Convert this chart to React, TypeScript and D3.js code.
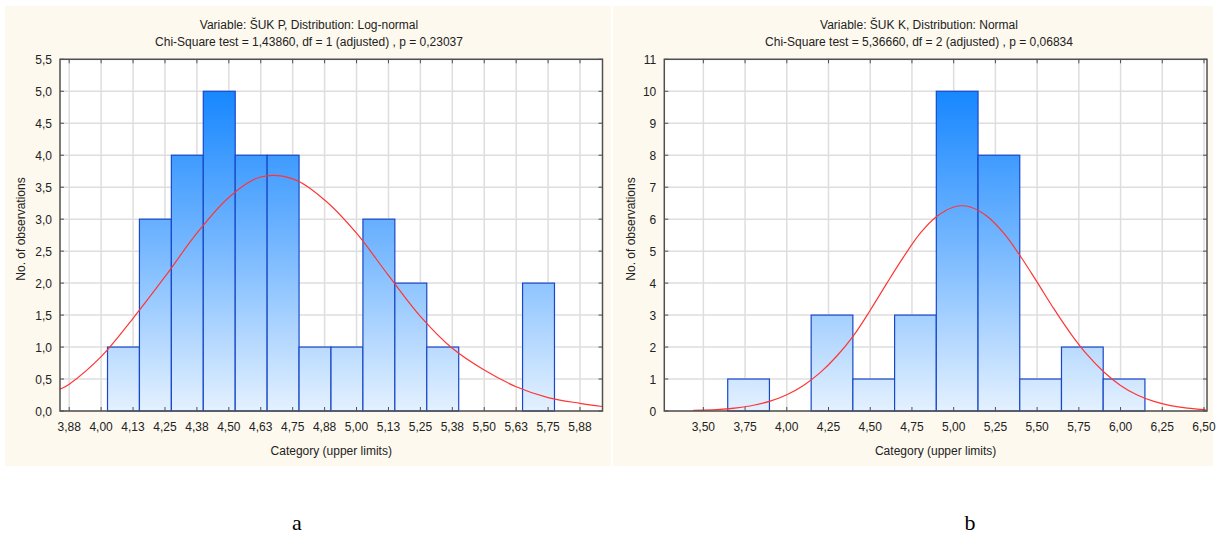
import React from "react";
import * as d3 from "d3";

// ---------- Data ----------
// Panel a: ŠUK P, log-normal fit
const leftTitle1 = "Variable: ŠUK P, Distribution: Log-normal";
const leftTitle2 = "Chi-Square test = 1,43860, df = 1 (adjusted) , p = 0,23037";
const leftTickValues = [3.875, 4.0, 4.125, 4.25, 4.375, 4.5, 4.625, 4.75, 4.875, 5.0, 5.125, 5.25, 5.375, 5.5, 5.625, 5.75, 5.875];
const leftTickLabels = ["3,88", "4,00", "4,13", "4,25", "4,38", "4,50", "4,63", "4,75", "4,88", "5,00", "5,13", "5,25", "5,38", "5,50", "5,63", "5,75", "5,88"];
const leftYTicks = [0, 0.5, 1, 1.5, 2, 2.5, 3, 3.5, 4, 4.5, 5, 5.5];
const leftYLabels = ["0,0", "0,5", "1,0", "1,5", "2,0", "2,5", "3,0", "3,5", "4,0", "4,5", "5,0", "5,5"];
const leftBinStart = 4.025;
const leftBinWidth = 0.125;
const leftCounts = [1, 3, 4, 5, 4, 4, 1, 1, 3, 2, 1, 0, 0, 2];
const leftCurveX = [3.839, 3.875, 4.0, 4.125, 4.25, 4.375, 4.5, 4.625, 4.75, 4.875, 5.0, 5.125, 5.25, 5.375, 5.5, 5.625, 5.75, 5.875, 5.962];
const leftCurveY = [0.34, 0.42, 0.85, 1.45, 2.1, 2.78, 3.34, 3.66, 3.63, 3.3, 2.78, 2.12, 1.48, 0.98, 0.64, 0.38, 0.21, 0.12, 0.07];
const leftDomain = [3.839, 5.963];
const leftYMax = 5.5;

// Panel b: ŠUK K, normal fit
const rightTitle1 = "Variable: ŠUK K, Distribution: Normal";
const rightTitle2 = "Chi-Square test = 5,36660, df = 2 (adjusted) , p = 0,06834";
const rightTickValues = [3.5, 3.75, 4.0, 4.25, 4.5, 4.75, 5.0, 5.25, 5.5, 5.75, 6.0, 6.25, 6.5];
const rightTickLabels = ["3,50", "3,75", "4,00", "4,25", "4,50", "4,75", "5,00", "5,25", "5,50", "5,75", "6,00", "6,25", "6,50"];
const rightYTicks = [0, 1, 2, 3, 4, 5, 6, 7, 8, 9, 10, 11];
const rightYLabels = ["0", "1", "2", "3", "4", "5", "6", "7", "8", "9", "10", "11"];
const rightBinStart = 3.646;
const rightBinWidth = 0.25;
const rightCounts = [1, 0, 3, 1, 3, 10, 8, 1, 2, 1];
const rightCurveX = [3.44, 3.5, 3.6, 3.7, 3.8, 3.9, 4.0, 4.1, 4.2, 4.3, 4.4, 4.5, 4.6, 4.7, 4.8, 4.9, 5.0, 5.05, 5.1, 5.2, 5.3, 5.4, 5.5, 5.6, 5.7, 5.8, 5.9, 6.0, 6.1, 6.2, 6.3, 6.4, 6.51];
const rightCurveY = [0.02, 0.025, 0.05, 0.1, 0.18, 0.31, 0.51, 0.8, 1.2, 1.72, 2.36, 3.15, 4.0, 4.82, 5.56, 6.09, 6.38, 6.42, 6.38, 6.09, 5.56, 4.84, 4.03, 3.2, 2.43, 1.76, 1.22, 0.8, 0.5, 0.3, 0.17, 0.09, 0.04];
const rightDomain = [3.266, 6.518];
const rightYMax = 11;

const panelLabels = ["a", "b"];

const FONT = "'Liberation Sans', Arial, sans-serif";

type PanelProps = {
  id: string;
  bx: number; bw: number;
  px0: number; px1: number;
  title1: string; title2: string; titleX: number;
  tickValues: number[]; tickLabels: string[];
  yTicks: number[]; yLabels: string[]; yMax: number;
  domain: number[];
  binStart: number; binWidth: number; counts: number[];
  curveX: number[]; curveY: number[];
  yLabelX: number;
};

function Panel(p: PanelProps) {
  const top = 59.3, bottom = 411;
  const x = d3.scaleLinear().domain(p.domain).range([p.px0, p.px1]);
  const y = d3.scaleLinear().domain([0, p.yMax]).range([bottom, top]);
  const maxC = d3.max(p.counts) as number;
  const line = d3.line<number>()
    .x((_, i) => x(p.curveX[i]))
    .y((d) => y(d))
    .curve(d3.curveCatmullRom.alpha(0.5));
  const tickLen = 4;
  const frame = "#505050";
  return (
    <g>
      <rect x={p.bx} y={6} width={p.bw} height={460} fill="#fdf9ee" />
      <text x={p.titleX} y={29} textAnchor="middle" fontFamily={FONT} fontSize={12} fill="#222">{p.title1}</text>
      <text x={p.titleX} y={46} textAnchor="middle" fontFamily={FONT} fontSize={12} fill="#222">{p.title2}</text>
      <rect x={p.px0} y={top} width={p.px1 - p.px0} height={bottom - top} fill="#ffffff" />
      <defs>
        <linearGradient id={p.id} gradientUnits="userSpaceOnUse" x1={0} x2={0} y1={y(maxC)} y2={bottom}>
          <stop offset="0%" stopColor="#1787ff" />
          <stop offset="50%" stopColor="#79b9ff" />
          <stop offset="100%" stopColor="#e4f1ff" />
        </linearGradient>
      </defs>
      {/* grid */}
      {p.tickValues.map((v, i) => (
        <line key={"gx" + i} x1={x(v)} x2={x(v)} y1={top} y2={bottom} stroke="#dedede" strokeWidth={1.5} />
      ))}
      {p.yTicks.map((v, i) => (
        <line key={"gy" + i} x1={p.px0} x2={p.px1} y1={y(v)} y2={y(v)} stroke="#dedede" strokeWidth={1.5} />
      ))}
      {/* bars */}
      {p.counts.map((c, i) =>
        c > 0 ? (
          <rect key={"b" + i}
            x={x(p.binStart + i * p.binWidth)}
            y={y(c)}
            width={x(p.binStart + (i + 1) * p.binWidth) - x(p.binStart + i * p.binWidth)}
            height={bottom - y(c)}
            fill={`url(#${p.id})`} stroke="#1848c8" strokeWidth={1.2} />
        ) : null
      )}
      {/* curve */}
      <path d={line(p.curveY) || ""} fill="none" stroke="#ff3535" strokeWidth={1.2} />
      {/* frame */}
      <rect x={p.px0} y={top} width={p.px1 - p.px0} height={bottom - top} fill="none" stroke={frame} strokeWidth={1.5} />
      {/* ticks */}
      {p.tickValues.map((v, i) => (
        <g key={"tx" + i}>
          <line x1={x(v)} x2={x(v)} y1={bottom} y2={bottom - tickLen} stroke={frame} strokeWidth={1} />
          <line x1={x(v)} x2={x(v)} y1={top} y2={top + tickLen} stroke={frame} strokeWidth={1} />
          <text x={x(v)} y={431} textAnchor="middle" fontFamily={FONT} fontSize={12} fill="#222">{p.tickLabels[i]}</text>
        </g>
      ))}
      {p.yTicks.map((v, i) => (
        <g key={"ty" + i}>
          <line x1={p.px0} x2={p.px0 + tickLen} y1={y(v)} y2={y(v)} stroke={frame} strokeWidth={1} />
          <line x1={p.px1} x2={p.px1 - tickLen} y1={y(v)} y2={y(v)} stroke={frame} strokeWidth={1} />
          <text x={p.px0 - 8} y={y(v) + 4.5} textAnchor="end" fontFamily={FONT} fontSize={12} fill="#222">{p.yLabels[i]}</text>
        </g>
      ))}
      <text x={(p.px0 + p.px1) / 2} y={455} textAnchor="middle" fontFamily={FONT} fontSize={12} fill="#222">Category (upper limits)</text>
      <text transform={`translate(${p.yLabelX},229) rotate(-90)`} textAnchor="middle" fontFamily={FONT} fontSize={12} fill="#222">No. of observations</text>
    </g>
  );
}

export default function App() {
  return (
    <svg width={1216} height={535} style={{ position: "absolute", left: 0, top: 0, background: "#ffffff" }}>
      <Panel id="gradA" bx={5} bw={606} px0={60} px1={602.5}
        title1={leftTitle1} title2={leftTitle2} titleX={309}
        tickValues={leftTickValues} tickLabels={leftTickLabels}
        yTicks={leftYTicks} yLabels={leftYLabels} yMax={leftYMax}
        domain={leftDomain} binStart={leftBinStart} binWidth={leftBinWidth} counts={leftCounts}
        curveX={leftCurveX} curveY={leftCurveY} yLabelX={25} />
      <Panel id="gradB" bx={613} bw={600} px0={664.3} px1={1207}
        title1={rightTitle1} title2={rightTitle2} titleX={919}
        tickValues={rightTickValues} tickLabels={rightTickLabels}
        yTicks={rightYTicks} yLabels={rightYLabels} yMax={rightYMax}
        domain={rightDomain} binStart={rightBinStart} binWidth={rightBinWidth} counts={rightCounts}
        curveX={rightCurveX} curveY={rightCurveY} yLabelX={635} />
      <text x={297} y={530} textAnchor="middle" fontFamily="'Liberation Serif', 'Times New Roman', serif" fontSize={22} fill="#000">{panelLabels[0]}</text>
      <text x={970} y={530} textAnchor="middle" fontFamily="'Liberation Serif', 'Times New Roman', serif" fontSize={22} fill="#000">{panelLabels[1]}</text>
    </svg>
  );
}
